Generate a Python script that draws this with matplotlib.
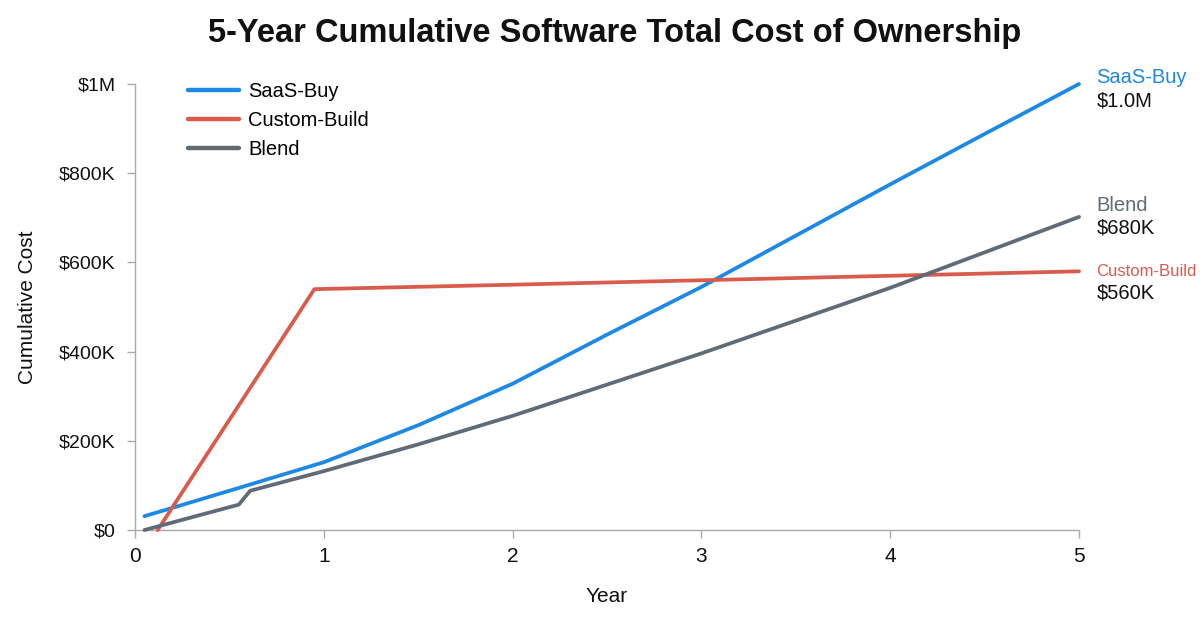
import matplotlib
matplotlib.use("Agg")
import matplotlib.pyplot as plt

plt.rcParams['font.family'] = ['Liberation Sans', 'DejaVu Sans']

# ---- data (cumulative cost in $) ----
saas_years = [0.05, 0.5, 1.0, 1.5, 2.0, 2.5, 3.0, 3.5, 4.0, 4.5, 5.0]
saas_cost = [31000, 88000, 152000, 235000, 328000, 438000, 545000, 660000, 775000, 888000, 1000000]

custom_years = [0.12, 0.95, 2.0, 3.0, 4.0, 5.0]
custom_cost = [0, 540000, 550000, 560000, 570000, 580000]

blend_years = [0.05, 0.55, 0.61, 1.0, 1.5, 2.0, 3.0, 4.0, 5.0]
blend_cost = [0, 57000, 88000, 132000, 192000, 256000, 396000, 543000, 702000]

series_names = ["SaaS-Buy", "Custom-Build", "Blend"]
end_labels = ["$1.0M", "$560K", "$680K"]
x_ticks = [0, 1, 2, 3, 4, 5]
y_ticks = [0, 200000, 400000, 600000, 800000, 1000000]
y_tick_labels = ["$0", "$200K", "$400K", "$600K", "$800K", "$1M"]

colors = ["#1E88E5", "#D95B4C", "#606B75"]

fig = plt.figure(figsize=(12, 6.3), dpi=100)
ax = fig.add_axes([0.1125, 0.1587, 0.7867, 0.708])

lw = 2.7
ax.plot(saas_years, saas_cost, color=colors[0], lw=lw, label=series_names[0],
        solid_capstyle='round', clip_on=False, zorder=3)
ax.plot(custom_years, custom_cost, color=colors[1], lw=lw, label=series_names[1],
        solid_capstyle='round', clip_on=False, zorder=3)
ax.plot(blend_years, blend_cost, color=colors[2], lw=lw, label=series_names[2],
        solid_capstyle='round', clip_on=False, zorder=3)

ax.set_xlim(0, 5)
ax.set_ylim(0, 1000000)
ax.set_xticks(x_ticks)
ax.set_yticks(y_ticks)
ax.set_yticklabels(y_tick_labels)

for s in ['top', 'right']:
    ax.spines[s].set_visible(False)
for s in ['left', 'bottom']:
    ax.spines[s].set_color('#AAAAAA')
    ax.spines[s].set_linewidth(1.0)
ax.tick_params(axis='both', colors='#AAAAAA', length=6, width=1.0)
ax.tick_params(axis='x', labelsize=15, labelcolor='#111111', pad=6)
ax.tick_params(axis='y', labelsize=14, labelcolor='#111111', pad=8)

ax.set_xlabel("Year", fontsize=15, color='#111111', labelpad=15)
ax.set_ylabel("Cumulative Cost", fontsize=15, color='#111111', labelpad=16)

fig.suptitle("5-Year Cumulative Software Total Cost of Ownership",
             fontsize=23.5, fontweight='bold', x=0.512, y=0.972, color='#111111')

leg = ax.legend(loc='upper left', bbox_to_anchor=(0.037, 1.045), frameon=False,
                fontsize=14.5, handlelength=2.55, handletextpad=0.45, labelspacing=0.5,
                prop={'size': 14.5, 'weight': 'medium'})
for line in leg.get_lines():
    line.set_linewidth(3.2)

# end labels
ends = [
    (saas_cost[-1], series_names[0], end_labels[0], colors[0], 14.5, 6, -17),
    (custom_cost[-1], series_names[1], end_labels[1], colors[1], 12, 0, -22),
    (blend_cost[-1], series_names[2], end_labels[2], colors[2], 14.5, 11, -11),
]
for yv, name, val, c, fs, dn, dv in ends:
    ax.annotate(name, xy=(5, yv), xytext=(17, dn), textcoords='offset pixels',
                color=c, fontsize=fs, ha='left', va='center',
                fontweight='medium' if fs > 13 else 'normal',
                fontstretch='condensed', annotation_clip=False)
    ax.annotate(val, xy=(5, yv), xytext=(18, dv), textcoords='offset pixels',
                color='#111111', fontsize=14.5, ha='left', va='center',
                annotation_clip=False)

fig.savefig("out.png", dpi=100, facecolor='white')
